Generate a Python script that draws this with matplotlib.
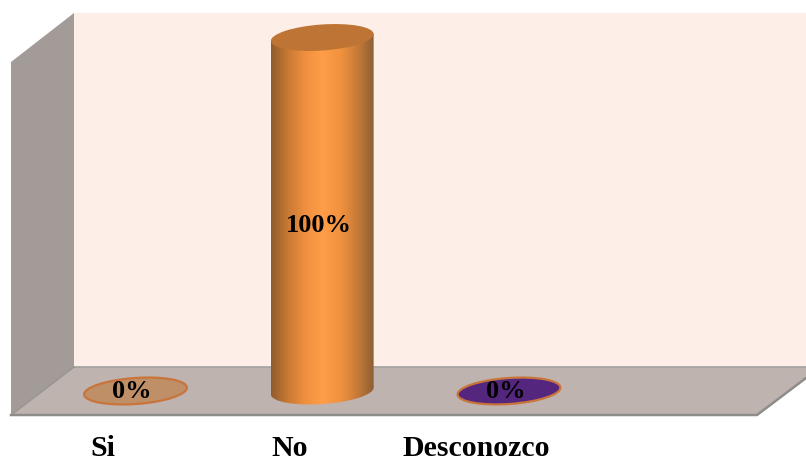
import numpy as np
import matplotlib
matplotlib.use('Agg')
import matplotlib.pyplot as plt
from matplotlib.colors import LinearSegmentedColormap
from matplotlib.patches import Ellipse, Polygon

categories = ['Si', 'No', 'Desconozco']
values = [0, 100, 0]
labels = ['0%', '100%', '0%']

W, H = 806, 459
plt.rcParams['font.family'] = ['Liberation Serif', 'DejaVu Serif']

fig = plt.figure(figsize=(W / 100, H / 100), dpi=100, facecolor='white')

# backdrop in pixel coordinates, y pointing down
px = fig.add_axes([0, 0, 1, 1])
px.set_xlim(0, W)
px.set_ylim(H, 0)
px.axis('off')

# value axes: category index across, percent up
left, right, bottom, top = 11, 806, 391, 37.5
ax = fig.add_axes([left / W, 1 - bottom / H, (right - left) / W, (bottom - top) / H])
ax.set_xlim((left - 135.5) / 186.75, (right - 135.5) / 186.75)
ax.set_ylim(0, 100)
ax.axis('off')
ax.patch.set_alpha(0)


def to_px(x, y):
    return px.transData.inverted().transform(ax.transData.transform((x, y)))


# walls and floor
px.add_patch(Polygon([(74, 13), (806, 13), (806, 367), (74, 367)], fc='#fdeee7', ec='none'))
px.add_patch(Polygon([(11, 62), (74, 13), (74, 367), (11, 415)], fc='#a39b97', ec='none'))
px.add_patch(Polygon([(11, 415), (74, 367), (806, 367), (806, 378), (757, 415)],
                     fc='#bfb3af', ec='none'))
px.plot([74, 806], [367, 367], color='#a3a09e', lw=1.2)
px.plot([11, 74], [415, 367], color='#999795', lw=1.2)
px.plot([11, 757, 806], [415, 415, 378], color='#8f8d8c', lw=1.8)

BAR_W, BAR_H, TILT = 103, 26, -4
side = LinearSegmentedColormap.from_list(
    'side', ['#8f5c2c', '#c97a35', '#f0903f', '#ff9d48', '#f3933f', '#c97c38', '#8d5f33'])
shade = np.linspace(0, 1, 256).reshape(1, -1)
dx = BAR_W / 2 * np.cos(np.radians(TILT))
dy = BAR_W / 2 * np.sin(np.radians(TILT))


def ellipse(cx, cy, **kw):
    return Ellipse((cx, cy), BAR_W, BAR_H, angle=TILT, **kw)


flat_colors = ['#bf8f68', None, '#54267e']
for i, (v, flat) in enumerate(zip(values, flat_colors)):
    cx, y0 = to_px(i, 0)
    _, y1 = to_px(i, v)
    if v == 0:
        # empty bar collapses to a flat disc on the floor
        px.add_patch(ellipse(cx, y0, fc=flat, ec='#c8743a', lw=1.6, zorder=3))
        continue
    # cylinder side: horizontal shading clipped to the body and the lower cap
    for clip in (Polygon([(cx - dx, y1 - dy), (cx + dx, y1 + dy),
                          (cx + dx, y0 + dy), (cx - dx, y0 - dy)],
                         transform=px.transData),
                 ellipse(cx, y0, transform=px.transData)):
        im = px.imshow(shade, cmap=side, aspect='auto', interpolation='bilinear',
                       extent=(cx - dx, cx + dx, y0 + BAR_H, y1 - BAR_H), zorder=3)
        im.set_clip_path(clip)
    px.add_patch(ellipse(cx, y1, fc='#bd7434', ec='none', zorder=4))

px.set_xlim(0, W)
px.set_ylim(H, 0)

# value labels and category names
label_dy = [-1, -11, -1]
for i, (name, v, lab) in enumerate(zip(categories, values, labels)):
    ax.annotate(lab, (i, v / 2), xytext=(-3.5 * 0.72, label_dy[i] * 0.72),
                textcoords='offset points', ha='center', va='center',
                fontsize=19, fontweight='bold', color='black', annotation_clip=False)
    ax.annotate(name, (i, 0), xytext=(-32.5 * 0.72, -58 * 0.72),
                textcoords='offset points', ha='center', va='center',
                fontsize=21.5, fontweight='bold', color='black', annotation_clip=False)

fig.savefig('out.png', dpi=100)
plt.close(fig)
